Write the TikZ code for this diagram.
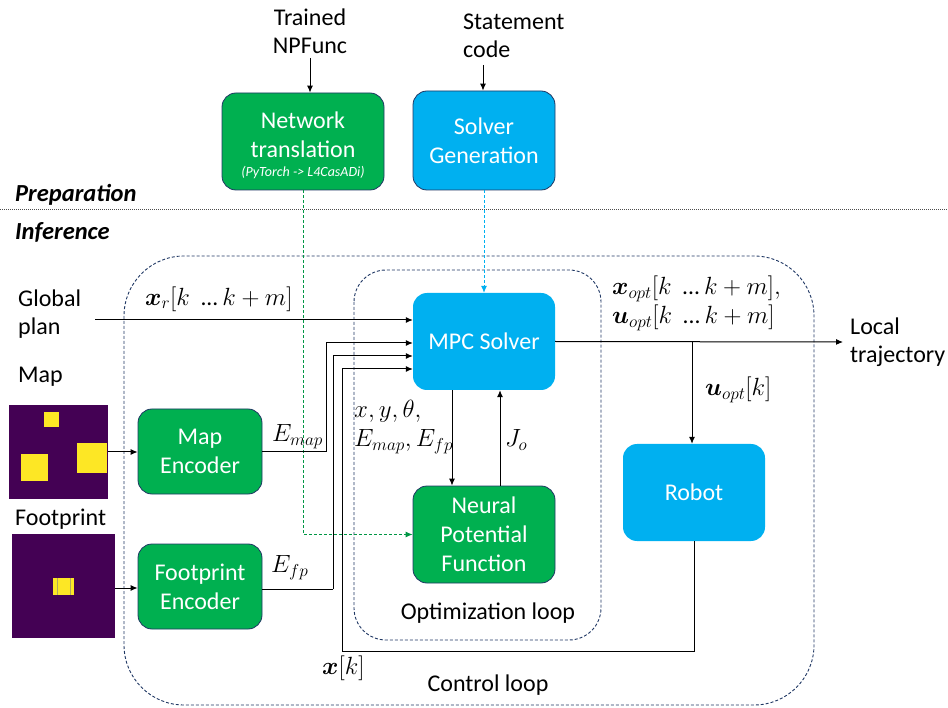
\documentclass[tikz,border=0pt]{standalone}
\usepackage{amsmath}
\usepackage{bm}
\usepackage{fontspec}
\setmainfont{Carlito}
\usetikzlibrary{arrows.meta}
\definecolor{boxgreen}{HTML}{00B050}
\definecolor{boxblue}{HTML}{00B0F0}
\definecolor{navy}{HTML}{203864}
\definecolor{vpurple}{HTML}{440154}
\definecolor{vyellow}{HTML}{FDE725}
\tikzset{
  blk/.style={rounded corners=14pt, text=white, align=center, inner sep=0pt,
    font=\fontsize{24}{29}\selectfont},
  gbox/.style={blk, fill=boxgreen, draw=navy, line width=0.8pt},
  bbox/.style={blk, fill=boxblue},
  bboxb/.style={blk, fill=boxblue, draw=navy, line width=0.8pt},
  lbl/.style={inner sep=0pt, font=\fontsize{24}{28}\selectfont, align=left},
  mlbl/.style={inner sep=0pt, font=\fontsize{23.5}{29}\selectfont, align=left},
  conn/.style={line width=1pt, black},
  arr/.style={conn, -{Latex[length=7pt,width=6pt]}},
  loop/.style={draw=navy, line width=0.9pt, dash pattern=on 3pt off 2pt},
}
\newcommand{\rng}{[k\ \ \text{...}\,k+m]}
\begin{document}
\begin{tikzpicture}[x=1pt,y=-1pt]
\useasboundingbox (0,0) rectangle (948,708);
\fill[white] (0,0) rectangle (948,708);

% loops
\draw[loop, rounded corners=60pt] (124,256) rectangle (814,705);
\draw[loop, rounded corners=32pt] (354,270) rectangle (601,640);

% separator
\draw[gray!60!black, line width=1pt, dash pattern=on 1pt off 1pt] (0,210) -- (948,210);
\node[inner sep=0pt, anchor=west, font=\fontsize{24.5}{26}\selectfont\bfseries\itshape] (prep) at (15,195) {Preparation};
\node[inner sep=0pt, anchor=west, font=\fontsize{24.5}{26}\selectfont\bfseries\itshape] (inf) at (15,232) {Inference};

% boxes
\node[gbox, minimum width=162pt, minimum height=97pt] (net) at (303,141.5) {};
\node[inner sep=0pt, text=white, align=center, font=\fontsize{24}{29}\selectfont] (nettxt) at (303,135) {Network\\translation};
\node[inner sep=0pt, text=white, font=\fontsize{14}{16}\selectfont\itshape] (netsub) at (303,173) {(PyTorch -> L4CasADi)};
\node[bboxb, minimum width=142pt, minimum height=99pt] (solgen) at (484,140.5) {Solver\\Generation};
\node[bbox, minimum width=142pt, minimum height=97pt] (mpc) at (484,341.5) {MPC Solver};
\node[gbox, minimum width=142pt, minimum height=97pt] (npf) at (484,534.5) {Neural\\Potential\\Function};
\node[bbox, minimum width=142pt, minimum height=97pt] (robot) at (694,492.5) {Robot};
\node[gbox, minimum width=124pt, minimum height=85pt] (mapenc) at (200,451.5) {Map\\Encoder};
\node[gbox, minimum width=124pt, minimum height=85pt] (fpenc) at (200,586.5) {Footprint\\Encoder};

% top inputs
\node[lbl, align=center] (trained) at (310,31) {Trained\\NPFunc};
\coordinate (tr0) at (310,58);
\draw[arr] (tr0) -- (tr0 |- net.north);
\node[lbl, anchor=west] (stmt) at (463,36) {Statement\\code};
\coordinate (st0) at (483,65);
\draw[arr] (st0) -- (st0 |- solgen.north);

% preparation to inference dashed
\draw[boxgreen!85!black, line width=0.9pt, dash pattern=on 3pt off 2pt, -{Latex[length=7pt,width=6pt]}] (net.south) |- (npf.west);
\draw[boxblue, line width=0.9pt, dash pattern=on 3pt off 2pt, -{Latex[length=7pt,width=6pt]}] (solgen.south) -- (mpc.north);

% images
\node[lbl, anchor=west] (maplbl) at (18,377) {Map};
\fill[vpurple] (9,405) rectangle (108,499);
\fill[vyellow] (44,412) rectangle (59,427);
\fill[vyellow] (21,454) rectangle (48,481);
\fill[vyellow] (77,443) rectangle (107,473);
\coordinate (mapimg) at (108,452);
\node[lbl, anchor=west] (fplbl) at (15,519) {Footprint};
\fill[vpurple] (12,534) rectangle (115,638);
\fill[vyellow] (53,578) rectangle (74,595);
\draw[gray!60!vyellow, line width=0.8pt] (57,578) -- (57,595) (70,578) -- (70,595);
\coordinate (fpimg) at (115,588);
\draw[arr] (mapimg) -- (mapimg -| mapenc.west);
\draw[arr] (fpimg) -- (fpimg -| fpenc.west);

% global plan
\node[lbl, anchor=west] (gplan) at (18,314) {Global\\plan};
\coordinate (gp) at (95,320);
\draw[arr] (gp) -- (gp -| mpc.west);
\node[mlbl, anchor=west] (xr) at (145,299) {$\bm{x}_r\rng$};

% encoders to mpc
\coordinate (em) at (326,343);
\draw[arr] (mapenc.east) -| (em) -- (em -| mpc.west);
\node[mlbl, anchor=west] (emaplbl) at (272,437) {$E_{map}$};
\coordinate (efa) at (333,589);
\coordinate (ef) at (333,356);
\draw[conn] (fpenc.east |- efa) -- (efa);
\draw[arr] (efa) -- (ef) -- (ef -| mpc.west);
\node[mlbl, anchor=west] (efplbl) at (271,568) {$E_{fp}$};

% feedback x[k]
\coordinate (fb) at (342,651);
\coordinate (fbin) at (342,369);
\draw[arr] (robot.south) |- (fb) -- (fbin) -- (fbin -| mpc.west);
\node[mlbl, anchor=west] (xk) at (322,668) {$\bm{x}[k]$};

% mpc <-> npf
\draw[arr] ([xshift=-32pt]mpc.south) -- ([xshift=-32pt]npf.north);
\draw[arr] ([xshift=16pt]npf.north) -- ([xshift=16pt]mpc.south);
\node[mlbl, anchor=west] (xyt) at (354,427) {$x,y,\theta,$\\$E_{map},E_{fp}$};
\node[mlbl, anchor=west] (jo) at (505,440) {$J_o$};

% outputs
\coordinate (lt) at (843,342);
\draw[arr] (mpc.east) -- (lt);
\node[lbl, anchor=west] (ltlbl) at (850,342) {Local\\trajectory};
\coordinate (jn) at (692,342);
\draw[arr] (jn) -- (jn |- robot.north);
\node[mlbl, anchor=west] (uk) at (705,390) {$\bm{u}_{opt}[k]$};
\node[mlbl, anchor=west] (xopt) at (612,303) {$\bm{x}_{opt}\rng,$\\$\bm{u}_{opt}\rng$};

% loop labels
\node[lbl] (optl) at (488,613) {Optimization loop};
\node[lbl] (ctrl) at (488,685) {Control loop};
\end{tikzpicture}
\end{document}
